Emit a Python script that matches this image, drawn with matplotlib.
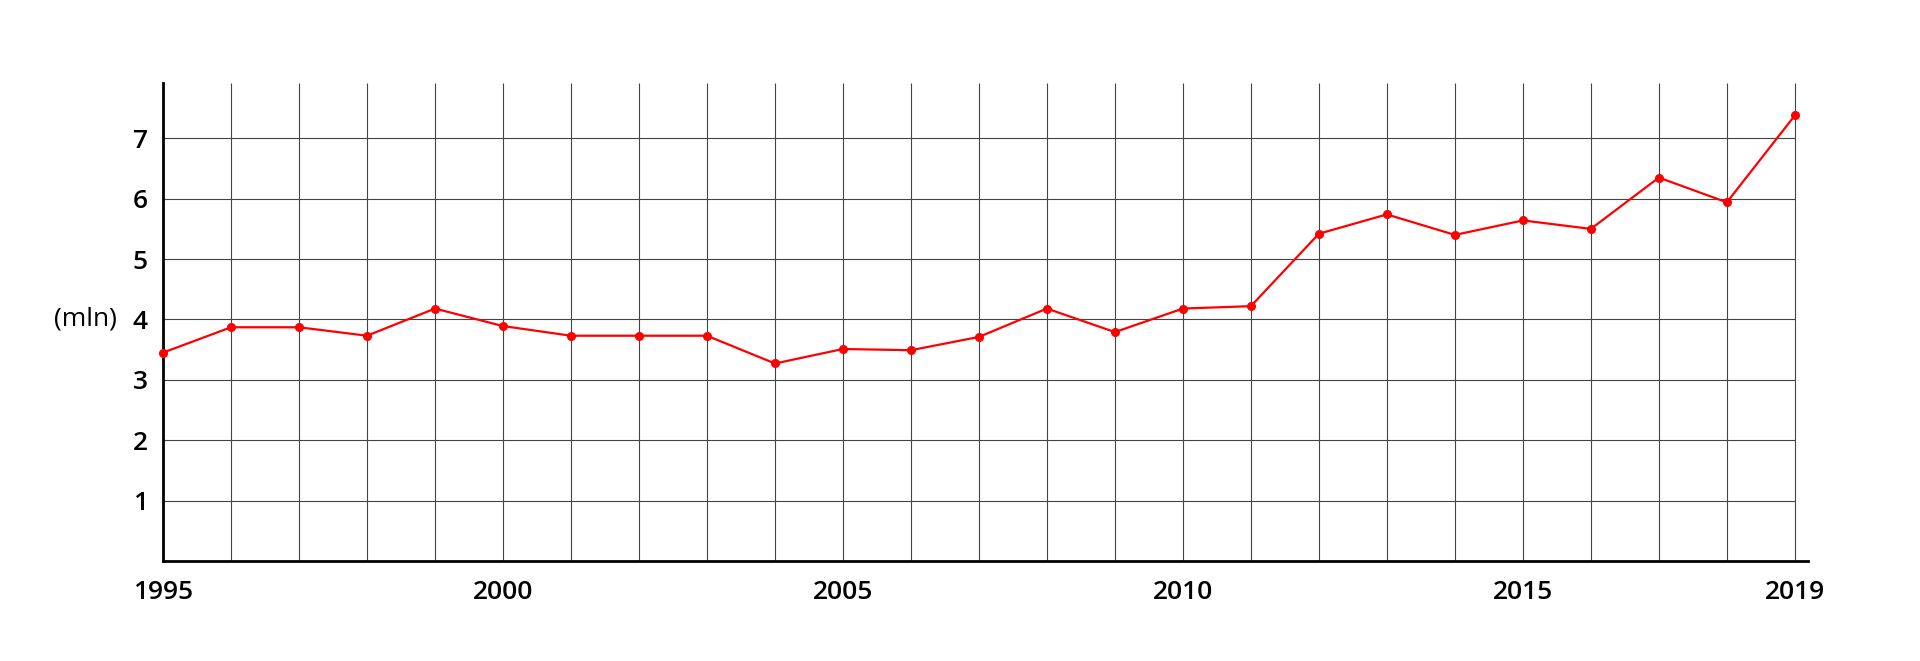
import matplotlib
matplotlib.use("Agg")
from matplotlib import pyplot as plt

plt.rcParams['font.family'] = ['Open Sans', 'DejaVu Sans']
plt.rcParams['font.weight'] = 'semibold'

years = list(range(1995, 2020))
values = [3.45, 3.87, 3.87, 3.73, 4.18, 3.89, 3.73, 3.73, 3.73, 3.27,
          3.51, 3.49, 3.71, 4.18, 3.79, 4.18, 4.22, 5.42, 5.74, 5.40,
          5.64, 5.50, 6.35, 5.94, 7.38]
y_ticks = [1, 2, 3, 4, 5, 6, 7]
x_ticks = [1995, 2000, 2005, 2010, 2015, 2019]

fig = plt.figure(figsize=(19.2, 6.61), dpi=100)
ax = fig.add_axes([0.0849, 0.1515, 0.857, 0.7232])

# grid drawn by hand: horizontal lines stop at the last year
ax.vlines(years[1:], 0, 7.92, color="#444444", lw=0.8, zorder=1)
ax.hlines(y_ticks, years[0], years[-1], color="#444444", lw=0.8, zorder=1)

ax.plot(years, values, color="red", lw=1.6, marker="o", markersize=5.5, zorder=3, clip_on=False)

ax.set_xlim(1995, 2019.2)
ax.set_ylim(0, 7.92)
ax.set_xticks(x_ticks)
ax.set_yticks(y_ticks)
ax.tick_params(axis="both", length=0, labelsize=19)
ax.tick_params(axis="x", pad=14)
ax.tick_params(axis="y", pad=11)

for s in ["top", "right"]:
    ax.spines[s].set_visible(False)
ax.spines["left"].set_linewidth(2)
ax.spines["bottom"].set_linewidth(2)

ax.set_ylabel("(mln)", rotation=0, fontsize=19, ha="right", va="center")
ax.yaxis.set_label_coords(-0.028, 4 / 7.92)

fig.savefig("out.png", dpi=100)
